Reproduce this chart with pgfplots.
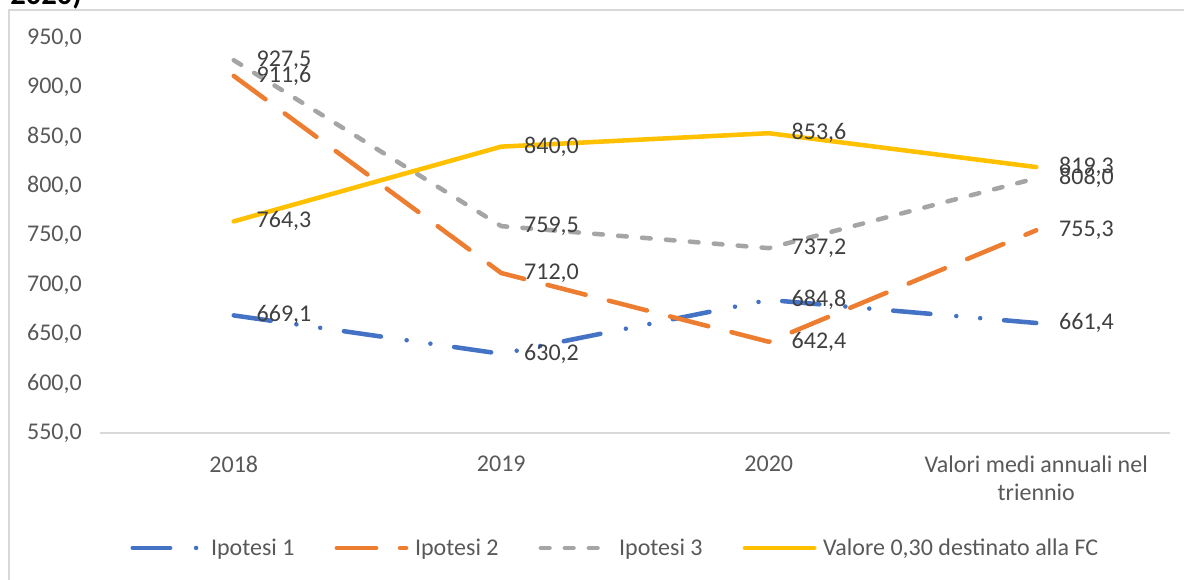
\documentclass[border=0pt]{standalone}
\usepackage{fontspec}
\setmainfont{Carlito}
\usepackage{pgfplots}
\pgfplotsset{compat=1.18}
\definecolor{c1}{HTML}{4472C4}
\definecolor{c2}{HTML}{ED7D31}
\definecolor{c3}{HTML}{A5A5A5}
\definecolor{c4}{HTML}{FFC000}
\definecolor{txt}{HTML}{595959}
\definecolor{lbl}{HTML}{404040}
\definecolor{framec}{HTML}{D9D9D9}
\newcommand{\ff}{\fontsize{18}{21}\selectfont}
\begin{document}
\begin{tikzpicture}
\useasboundingbox (0pt,0pt) rectangle (888pt,-434.25pt);
\draw[framec, line width=1.5pt] (6.75pt,-7.5pt) rectangle (900pt,-450pt);
\node[anchor=base west, inner sep=0pt, font=\bfseries\fontsize{23}{25}\selectfont] at (7.5pt,-3pt) {2020)};
\begin{axis}[
  at={(75pt,-324.75pt)}, anchor=south west,
  scale only axis, width=802.5pt, height=296.25pt,
  xmin=-0.5, xmax=3.5, ymin=550, ymax=950,
  xtick={0,1,2,3},
  xticklabels={2018,2019,2020,{Valori medi annuali nel\\triennio}},
  ytick={550,600,...,950},
  axis x line*=bottom, axis y line*=left,
  x axis line style={draw=framec, line width=1.5pt, -},
  y axis line style={draw=none},
  major tick length=0pt,
  xticklabel style={anchor=north, inner sep=0pt, yshift=-17pt, align=center, text=txt, font=\ff},
  yticklabel style={anchor=east, inner sep=0pt, xshift=-13.5pt, text=txt, font=\ff},
  /pgf/number format/fixed,
  /pgf/number format/fixed zerofill,
  /pgf/number format/precision=1,
  /pgf/number format/use comma,
  /pgf/number format/1000 sep={},
  /pgf/number format/assume math mode=true,
  clip=false,
  legend columns=4,
  legend style={at={(0.482,-0.291)}, anchor=center, draw=none, fill=none, font=\ff, text=txt,
    /tikz/every odd column/.append style={column sep=3pt},
    /tikz/every even column/.append style={column sep=28pt}},
  legend image code/.code={\draw[#1] (0pt,0pt) -- (52pt,0pt);},
  every node near coord/.append style={anchor=west, xshift=17pt, inner sep=0pt, text=lbl, font=\ff},
]
\addplot[c1, line width=3.4pt, line cap=round, dash pattern=on 28pt off 19.5pt on 0pt off 18pt on 0pt off 18pt]
  coordinates {(0,669.1) (1,630.2) (2,684.8) (3,661.4)};
\addlegendentry{Ipotesi 1}
\addplot[c2, line width=3.4pt, line cap=round, dash pattern=on 29.5pt off 18pt]
  coordinates {(0,911.6) (1,712.0) (2,642.4) (3,755.3)};
\addlegendentry{Ipotesi 2}
\addplot[c3, line width=3.4pt, line cap=round, dash pattern=on 6.5pt off 11.5pt]
  coordinates {(0,927.5) (1,759.5) (2,737.2) (3,808.0)};
\addlegendentry{Ipotesi 3}
\addplot[c4, line width=3.4pt, line cap=round, line join=round]
  coordinates {(0,764.3) (1,840.0) (2,853.6) (3,819.3)};
\addlegendentry{Valore 0,30 destinato alla FC}
\addplot[draw=none, nodes near coords, forget plot] coordinates {(0,669.1) (1,630.2) (2,684.8) (3,661.4)};
\addplot[draw=none, nodes near coords, forget plot] coordinates {(0,911.6) (1,712.0) (2,642.4) (3,755.3)};
\addplot[draw=none, nodes near coords, forget plot] coordinates {(0,927.5) (1,759.5) (2,737.2) (3,808.0)};
\addplot[draw=none, nodes near coords, forget plot] coordinates {(0,764.3) (1,840.0) (2,853.6) (3,819.3)};
\end{axis}
\end{tikzpicture}
\end{document}
